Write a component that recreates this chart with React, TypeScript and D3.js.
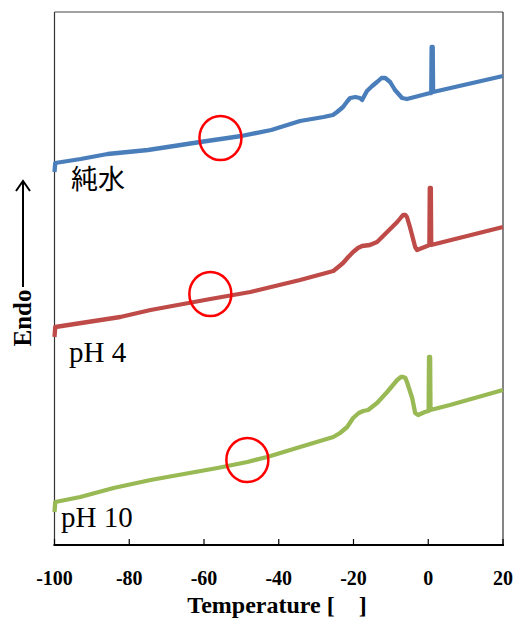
import React from 'react';
import * as d3 from 'd3';

// 温度軸の目盛り
const xTicks = [-100, -80, -60, -40, -20, 0, 20];

// 純水
const waterTemp = [-100, -99.8, -93, -85.8, -75, -61, -50, -42, -34.3, -28, -25.5, -24.4, -22.8, -21.6, -20.9, -19.5, -18.3, -17.7, -16.4, -15.0, -13.7, -12.5, -11.5, -10.2, -8.9, -7.0, -5.7, 0.5, 0.8, 0.9, 1.2, 1.3, 20];
const waterHeat = [37.3, 38.2, 38.6, 39.1, 39.5, 40.3, 40.9, 41.5, 42.4, 42.8, 43.0, 43.3, 43.8, 44.4, 44.7, 44.8, 44.7, 44.5, 45.4, 45.9, 46.3, 46.7, 46.7, 46.3, 45.5, 44.7, 44.6, 45.2, 45.2, 49.8, 49.8, 45.3, 46.9];

// pH 4
const ph4Temp = [-100, -99.8, -82.4, -74.3, -58.3, -47.6, -34.3, -25.4, -24.4, -22.8, -21.4, -20.1, -18.8, -17.7, -15.6, -13.7, -11.0, -8.3, -7.2, -6.7, -6.1, -5.7, -4.9, -3.5, -3.0, -0.3, 0.3, 0.4, 0.7, 0.8, 20];
const ph4Heat = [20.8, 21.8, 22.8, 23.5, 24.6, 25.3, 26.5, 27.4, 27.7, 28.2, 28.8, 29.3, 29.7, 29.9, 30.0, 30.3, 31.3, 32.3, 32.8, 33.0, 33.0, 32.8, 31.8, 29.8, 29.5, 29.9, 30.0, 35.7, 35.7, 30.0, 31.8];

// pH 10
const ph10Temp = [-100, -99.8, -93.1, -84.2, -74.3, -56.4, -48.4, -43.1, -34.3, -25.4, -23.6, -21.7, -20.1, -18.6, -17.4, -16.1, -13.7, -11.0, -8.3, -7.3, -6.7, -6.1, -5.7, -4.3, -3.5, -2.7, -0.9, 0.1, 0.2, 0.5, 0.6, 5.8, 20];
const ph10Heat = [3.3, 4.3, 4.8, 5.7, 6.5, 7.7, 8.3, 8.8, 9.8, 10.8, 11.2, 11.8, 12.7, 13.2, 13.4, 13.5, 14.2, 15.3, 16.5, 16.8, 16.8, 16.7, 16.3, 14.7, 13.2, 13.0, 13.3, 13.4, 18.8, 18.8, 13.5, 14.0, 15.5];

const seriesNames = ['純水', 'pH 4', 'pH 10'];
const seriesColors = ['#4a7ebb', '#be4b48', '#98b954'];

// 赤丸の位置
const circleTemp = [-55.6, -58.3, -48.4];
const circleHeat = [40.7, 25.1, 8.5];

const serif = '"Liberation Serif", "Times New Roman", serif';

export default function App() {
  const x = d3.scaleLinear().domain([-100, 20]).range([54.5, 503]);
  const y = d3.scaleLinear().domain([0, 53.3]).range([545, 12]);

  const series = [
    { t: waterTemp, v: waterHeat },
    { t: ph4Temp, v: ph4Heat },
    { t: ph10Temp, v: ph10Heat },
  ];

  const line = d3.line<[number, number]>()
    .x(d => x(d[0]))
    .y(d => y(d[1]))
    .curve(d3.curveLinear);

  const [x0, x1] = x.range();
  const [yb, yt] = y.range();

  return (
    <svg width={515} height={620} style={{ position: 'absolute', left: 0, top: 0, background: '#fff' }}>
      {/* 枠 */}
      <line x1={x0} y1={yt} x2={x1} y2={yt} stroke="#444" strokeWidth={1.2} />
      <line x1={x0} y1={yt} x2={x0} y2={yb} stroke="#333" strokeWidth={1.2} />
      <line x1={x1} y1={yt} x2={x1} y2={yb} stroke="#333" strokeWidth={1.2} />

      {/* 曲線 */}
      {series.map((s, i) => (
        <path
          key={i}
          d={line(s.t.map((t, j) => [t, s.v[j]] as [number, number])) || ''}
          fill="none"
          stroke={seriesColors[i]}
          strokeWidth={4.3}
          strokeLinejoin="round"
        />
      ))}

      {/* 赤丸 */}
      {circleTemp.map((t, i) => (
        <ellipse key={i} cx={x(t)} cy={y(circleHeat[i])} rx={21} ry={22} fill="none" stroke="#ff0000" strokeWidth={2.5} />
      ))}

      {/* 系列ラベル */}
      <text x={71} y={189} fontSize={27} fontFamily='"Noto Sans CJK JP", sans-serif' fill="#000">{seriesNames[0]}</text>
      <text x={69} y={362} fontSize={29} fontFamily={serif} fill="#000">{seriesNames[1]}</text>
      <text x={61} y={527} fontSize={29} fontFamily={serif} fill="#000">{seriesNames[2]}</text>

      {/* X軸 */}
      <line x1={x0 - 1} y1={yb} x2={x1 + 1} y2={yb} stroke="#000" strokeWidth={2} />
      {xTicks.map(t => (
        <g key={t}>
          <line x1={x(t)} y1={yb} x2={x(t)} y2={yb - 6} stroke="#000" strokeWidth={1.2} />
          <text x={x(t)} y={585} textAnchor="middle" fontSize={20} fontWeight="bold" fontFamily={serif}>{t}</text>
        </g>
      ))}
      <text x={277} y={613} textAnchor="middle" fontSize={24} fontWeight="bold" fontFamily={serif} style={{ whiteSpace: 'pre' }}>
        {'Temperature [    ]'}
      </text>

      {/* Y軸ラベル */}
      <text transform="translate(31,318) rotate(-90)" textAnchor="middle" fontSize={25} fontWeight="bold" fontFamily={serif}>Endo</text>
      <line x1={23} y1={287} x2={23} y2={181} stroke="#000" strokeWidth={2} />
      <path d="M16,191 L23,181 L30,191" fill="none" stroke="#000" strokeWidth={2} />
    </svg>
  );
}
